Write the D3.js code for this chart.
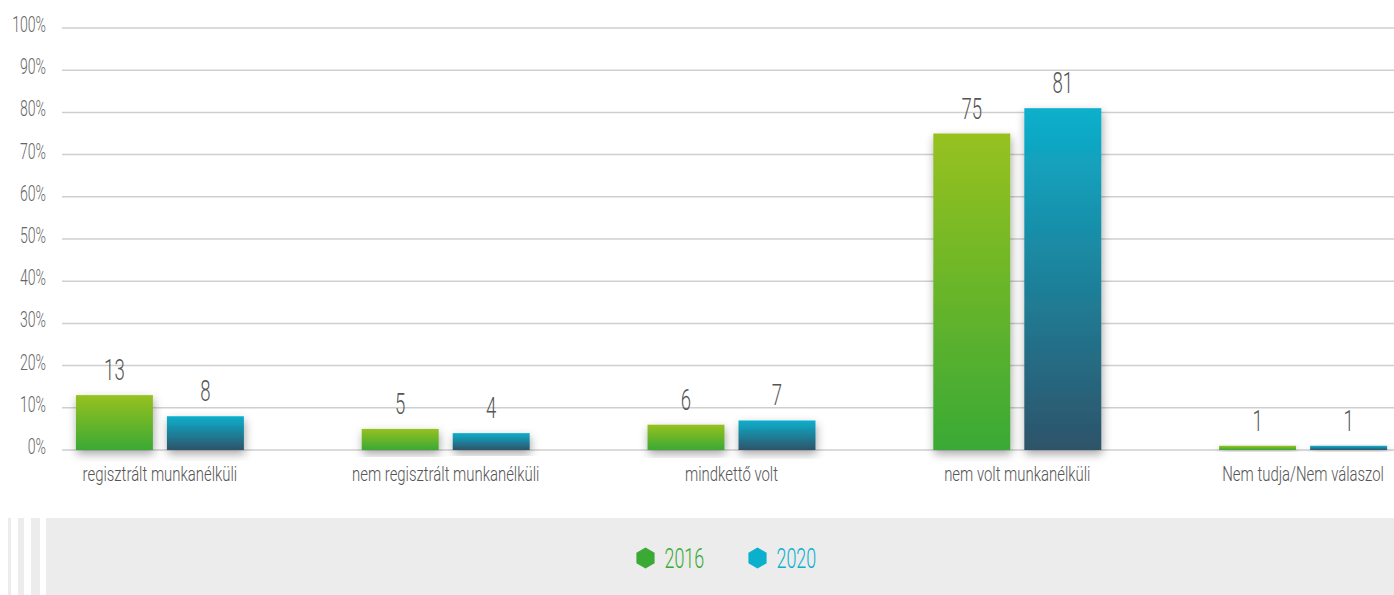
<!DOCTYPE html>
<html>
<head>
<meta charset="utf-8">
<script src="https://cdn.jsdelivr.net/npm/d3@7"></script>
<style>
  body { margin: 0; background: #fff; }
  text { font-family: Roboto, "DejaVu Sans Condensed", sans-serif; font-weight: 300; }
</style>
</head>
<body>
<div id="vis"></div>
<script>
// chart data
var categories = ["regisztrált munkanélküli", "nem regisztrált munkanélküli", "mindkettő volt", "nem volt munkanélküli", "Nem tudja/Nem válaszol"];
var series = ["2016", "2020"];
var values2016 = [13, 5, 6, 75, 1];
var values2020 = [8, 4, 7, 81, 1];
var yTicks = [0, 10, 20, 30, 40, 50, 60, 70, 80, 90, 100];

var W = 1394, H = 595;
var SX = 0.64; // squeeze text horizontally, the original font is condensed

var svg = d3.select("#vis").append("svg")
    .attr("width", W)
    .attr("height", H);

var defs = svg.append("defs");

// gradients for bars
var grads = [
  { id: "g2016", top: "#97c11f", bottom: "#3aa935" },
  { id: "g2020", top: "#0db0cd", bottom: "#2e5369" }
];
grads.forEach(function (g) {
  var lg = defs.append("linearGradient")
      .attr("id", g.id)
      .attr("x1", 0).attr("y1", 0).attr("x2", 0).attr("y2", 1);
  lg.append("stop").attr("offset", "0%").attr("stop-color", g.top);
  lg.append("stop").attr("offset", "100%").attr("stop-color", g.bottom);
});

var shadow = defs.append("filter")
    .attr("id", "shadow")
    .attr("x", "-30%").attr("y", "-30%")
    .attr("width", "160%").attr("height", "160%");
shadow.append("feDropShadow")
    .attr("dx", 1).attr("dy", 4)
    .attr("stdDeviation", 5)
    .attr("flood-color", "#000")
    .attr("flood-opacity", 0.35);

// scales
var y = d3.scaleLinear().domain([0, 100]).range([450, 28]);
var x = d3.scaleBand().domain(categories).range([17, 1446]).padding(0);
var xInner = d3.scaleBand().domain(series).range([-84, 84]).paddingInner(0.154);

function tr(px, py, sx) { return "translate(" + px + "," + py + ") scale(" + (sx || SX) + ",1)"; }

// gridlines
svg.append("g")
  .selectAll("line")
  .data(yTicks)
  .enter()
  .append("line")
    .attr("x1", 62).attr("x2", W)
    .attr("y1", function (d) { return y(d); })
    .attr("y2", function (d) { return y(d); })
    .attr("stroke", "#cfcfcf")
    .attr("stroke-width", 1.5);

// y axis labels
svg.append("g")
  .selectAll("text")
  .data(yTicks)
  .enter()
  .append("text")
    .attr("transform", function (d) { return tr(46, y(d) + 4); })
    .attr("text-anchor", "end")
    .attr("fill", "#666")
    .style("font-size", "22px")
    .text(function (d) { return d + "%"; });

var rows = categories.map(function (c, i) {
  return { cat: c, vals: [values2016[i], values2020[i]] };
});

var groups = svg.append("g")
  .selectAll("g")
  .data(rows)
  .enter()
  .append("g")
    .attr("transform", function (d) { return "translate(" + (x(d.cat) + x.bandwidth() / 2) + ",0)"; });

groups.selectAll("rect")
  .data(function (d) { return d.vals.map(function (v, j) { return { s: series[j], v: v }; }); })
  .enter()
  .append("rect")
    .attr("x", function (d) { return xInner(d.s); })
    .attr("width", xInner.bandwidth())
    .attr("y", function (d) { return y(d.v); })
    .attr("height", function (d) { return y(0) - y(d.v); })
    .attr("fill", function (d) { return "url(#g" + d.s + ")"; })
    .attr("filter", "url(#shadow)");

// value labels
groups.selectAll("text.val")
  .data(function (d) { return d.vals.map(function (v, j) { return { s: series[j], v: v }; }); })
  .enter()
  .append("text")
    .attr("class", "val")
    .attr("transform", function (d) { return tr(xInner(d.s) + xInner.bandwidth() / 2, y(d.v) - 15); })
    .attr("text-anchor", "middle")
    .attr("fill", "#555")
    .style("font-size", "29px")
    .text(function (d) { return d.v; });

// category labels
groups.append("text")
    .attr("transform", tr(0, 481, 0.71))
    .attr("text-anchor", "middle")
    .attr("fill", "#555")
    .style("font-size", "21px")
    .text(function (d) { return d.cat; });

// legend panel
var legendBg = svg.append("g");
[[8, 3], [18, 6], [31, 9], [46, W - 46]].forEach(function (s) {
  legendBg.append("rect")
    .attr("x", s[0]).attr("y", 518)
    .attr("width", s[1]).attr("height", H - 518)
    .attr("fill", "#ececec");
});

var legendColors = { "2016": "#3aaa35", "2020": "#0ab0cc" };
var hex = function (cx, cy, r) {
  var pts = d3.range(6).map(function (k) {
    var a = Math.PI / 3 * k - Math.PI / 2;
    return [cx + r * Math.cos(a), cy + r * Math.sin(a)];
  });
  return "M" + pts.join("L") + "Z";
};

var legend = svg.append("g")
  .selectAll("g")
  .data(series)
  .enter()
  .append("g")
    .attr("transform", function (d, i) { return "translate(" + (645.5 + i * 112) + ",558)"; });

legend.append("path")
    .attr("d", hex(0, 0, 10.5))
    .attr("fill", function (d) { return legendColors[d]; });

legend.append("text")
    .attr("transform", tr(19, 10))
    .attr("fill", function (d) { return legendColors[d]; })
    .style("font-size", "28px")
    .text(function (d) { return d; });
</script>
</body>
</html>
